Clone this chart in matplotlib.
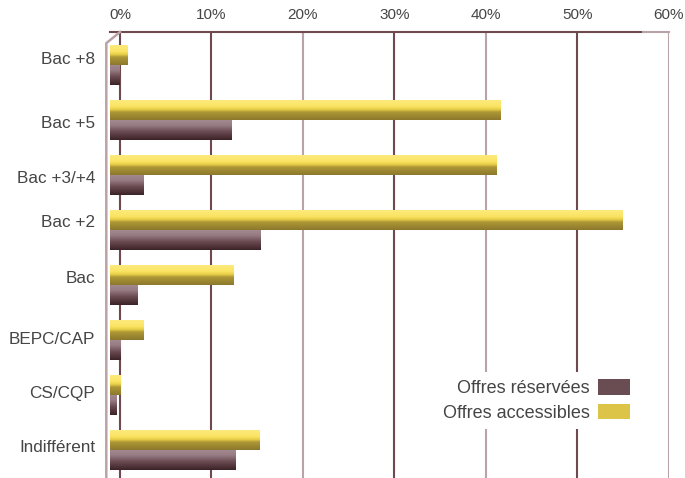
import numpy as np
import matplotlib
matplotlib.use("Agg")
import matplotlib.pyplot as plt
import matplotlib.transforms as mtransforms
from matplotlib.colors import LinearSegmentedColormap
from matplotlib.patches import Patch

# === DATA ===
categories = ["Bac +8", "Bac +5", "Bac +3/+4", "Bac +2", "Bac", "BEPC/CAP", "CS/CQP", "Indifférent"]
accessibles = [1.9, 42.7, 42.3, 56.0, 13.5, 3.7, 1.1, 16.3]
reservees = [1.0, 13.3, 3.7, 16.5, 3.0, 1.2, 0.7, 13.7]
tick_values = [0, 10, 20, 30, 40, 50, 60]
series_labels = ["Offres réservées", "Offres accessibles"]

# === STYLE ===
plt.rcParams['font.family'] = ['Liberation Sans', 'DejaVu Sans']
TEXT = "#454545"
DARK_GRID = "#6e4a50"
LIGHT_GRID = "#b9a3a6"
grid_colors = [DARK_GRID, DARK_GRID, LIGHT_GRID, DARK_GRID, LIGHT_GRID, DARK_GRID, LIGHT_GRID]
label_nudge_px = [-5, 4, 4, -7, -6, 0, -1, -2]   # labels sit a little off-centre in the original
DEPTH = 1.1          # front-plane offset of the pseudo-3D bars (in % units)
BAR_H = 0.37

yellow_cmap = LinearSegmentedColormap.from_list(
    "yel", [(0, "#fdeb80"), (0.35, "#fbe363"), (0.5, "#e6cd46"), (0.62, "#ad9737"), (1, "#8c782b")])
brown_cmap = LinearSegmentedColormap.from_list(
    "brn", [(0, "#a38c92"), (0.3, "#977b82"), (0.6, "#6b4b53"), (1, "#3b2327")])

W, H = 685, 478
fig = plt.figure(figsize=(W / 100, H / 100), dpi=100)
left_px, right_px, top_px = 106.3, 668.7, 32
ax = fig.add_axes([left_px / W, 0, (right_px - left_px) / W, 1 - top_px / H])

xlim = (-1.5, 60)
ylim = (7.51, -0.6)


def gradient_bar(patch, cmap):
    x0, y0 = patch.get_x(), patch.get_y()
    w, h = patch.get_width(), patch.get_height()
    grad = np.linspace(0, 1, 64).reshape(-1, 1)
    im = ax.imshow(grad, cmap=cmap, aspect="auto", origin="upper",
                   extent=(x0, x0 + w, y0 + h, y0), interpolation="bilinear", zorder=3)
    im.set_clip_path(patch)


y = np.arange(len(categories))
bars_acc = ax.barh(y - BAR_H / 2, accessibles, height=BAR_H, left=-DEPTH,
                   facecolor="none", edgecolor="none", zorder=3)
bars_res = ax.barh(y + BAR_H / 2, reservees, height=BAR_H, left=-DEPTH,
                   facecolor="none", edgecolor="none", zorder=3)
for p in bars_acc:
    gradient_bar(p, yellow_cmap)
for p in bars_res:
    gradient_bar(p, brown_cmap)

# back-wall gridlines
for t, c in zip(tick_values, grid_colors):
    ax.axvline(t, color=c, lw=1.5, zorder=1)

ax.set_xlim(*xlim)
ax.set_ylim(*ylim)

# top axis line and pseudo-3D left edge
trans = mtransforms.blended_transform_factory(ax.transData, ax.transAxes)
ax.plot([-DEPTH, 57.2], [1, 1], color=DARK_GRID, lw=1.5, transform=trans, clip_on=False, zorder=2)
ax.plot([57.2, 60], [1, 1], color=LIGHT_GRID, lw=1.5, transform=trans, clip_on=False, zorder=2)
ax.plot([-1.5, -1.5, 0], [0, 0.975, 1], color=LIGHT_GRID, lw=1.8, transform=trans, clip_on=False, zorder=2)

for s in ax.spines.values():
    s.set_visible(False)

ax.xaxis.tick_top()
ax.set_xticks(tick_values)
ax.set_xticklabels([f"{t}%" for t in tick_values], fontsize=11, color=TEXT)
ax.tick_params(axis="x", length=0, pad=7)

# category labels
ax.set_yticks([])
ylab_trans = mtransforms.blended_transform_factory(ax.transAxes, ax.transData)
for yi, lab, nudge in zip(y, categories, label_nudge_px):
    off = mtransforms.ScaledTranslation(-11 / 100, -nudge / 100, fig.dpi_scale_trans)
    ax.text(0, yi, lab, transform=ylab_trans + off, ha="right", va="center",
            fontsize=12.3, color=TEXT)

handles = [Patch(facecolor="#6a4c53", edgecolor="none"),
           Patch(facecolor="#dcc448", edgecolor="none")]
leg = ax.legend(handles, series_labels, loc="upper right", markerfirst=False,
                bbox_to_anchor=(637 / W, 1 - 372 / H), bbox_transform=fig.transFigure,
                fontsize=13, frameon=True, facecolor="white", edgecolor="none", framealpha=1,
                handlelength=1.75, handleheight=0.95, handletextpad=0.45,
                labelspacing=0.35, borderpad=0.4, borderaxespad=0)
for txt in leg.get_texts():
    txt.set_color(TEXT)
leg.set_zorder(5)

fig.savefig("out.png", dpi=100)
